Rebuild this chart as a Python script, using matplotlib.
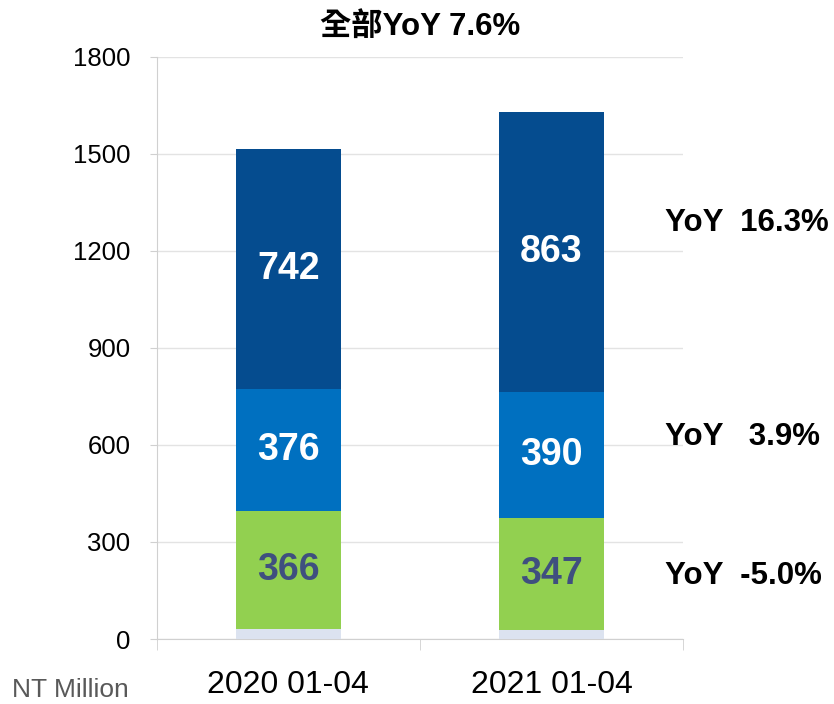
import numpy as np
import matplotlib
matplotlib.use("Agg")
import matplotlib.pyplot as plt
from matplotlib.ticker import FixedLocator

plt.rcParams['font.family'] = ['Liberation Sans', 'Noto Sans CJK TC', 'DejaVu Sans']

# ── data ─────────────────────────────────────────────
periods = ["2020 01-04", "2021 01-04"]
base    = [30, 28]        # small unlabeled bottom segment
green   = [366, 347]
mid     = [376, 390]
top     = [742, 863]
yoy_labels = ["YoY  16.3%", "YoY   3.9%", "YoY  -5.0%"]
title = "全部YoY 7.6%"

c_base, c_green, c_mid, c_top = "#DCE3F0", "#92D050", "#0070C0", "#054C8F"
grid_c = "#E3E3E3"

fig = plt.figure(figsize=(8.34, 7.04), dpi=100)
ax = fig.add_axes([0.188, 0.0923, 0.631, 0.827])

x = np.arange(len(periods))
w = 0.4
b0 = np.array(base)
b1 = b0 + np.array(green)
b2 = b1 + np.array(mid)
ax.bar(x, base, w, color=c_base, zorder=3)
ax.bar(x, green, w, bottom=b0, color=c_green, zorder=3)
ax.bar(x, mid, w, bottom=b1, color=c_mid, zorder=3)
ax.bar(x, top, w, bottom=b2, color=c_top, zorder=3)

# segment labels
for i in range(len(x)):
    ax.text(x[i], b0[i] + green[i] / 2, str(green[i]), ha='center', va='center',
            fontsize=27, fontweight='bold', color="#3F4F7F", zorder=4)
    ax.text(x[i], b1[i] + mid[i] / 2, str(mid[i]), ha='center', va='center',
            fontsize=27, fontweight='bold', color='white', zorder=4)
    ax.text(x[i], b2[i] + top[i] / 2, str(top[i]), ha='center', va='center',
            fontsize=27, fontweight='bold', color='white', zorder=4)

ax.set_xlim(-0.5, 1.5)
ax.set_ylim(0, 1800)
ax.set_yticks(np.arange(0, 1801, 300))
ax.yaxis.grid(True, color=grid_c, linewidth=1, zorder=0)
ax.set_axisbelow(True)
for s in ["top", "right"]:
    ax.spines[s].set_visible(False)
ax.spines["left"].set_color("#D0D0D0")
ax.spines["bottom"].set_color("#D0D0D0")

ax.set_xticks(x)
ax.set_xticklabels(periods, fontsize=23)
ax.tick_params(axis='x', length=0, pad=22)
ax.xaxis.set_minor_locator(FixedLocator([-0.5, 0.5, 1.5]))
ax.tick_params(axis='x', which='minor', length=8, color="#D0D0D0")
ax.tick_params(axis='y', labelsize=18.5, length=5, color="#D0D0D0", pad=14)

ax.set_title(title, fontsize=22.5, fontweight='bold', pad=16)

# YoY notes on the right
yoy_y = [1287, 625, 195]
for lab, yy in zip(yoy_labels, yoy_y):
    ax.text(0.965, yy, lab, transform=ax.get_yaxis_transform(), ha='left',
            va='center', fontsize=22.5, fontweight='bold', clip_on=False)

fig.text(0.014, 0.003, "NT Million", fontsize=19, color="#595959", ha='left', va='bottom')

fig.savefig("out.png", dpi=100)
